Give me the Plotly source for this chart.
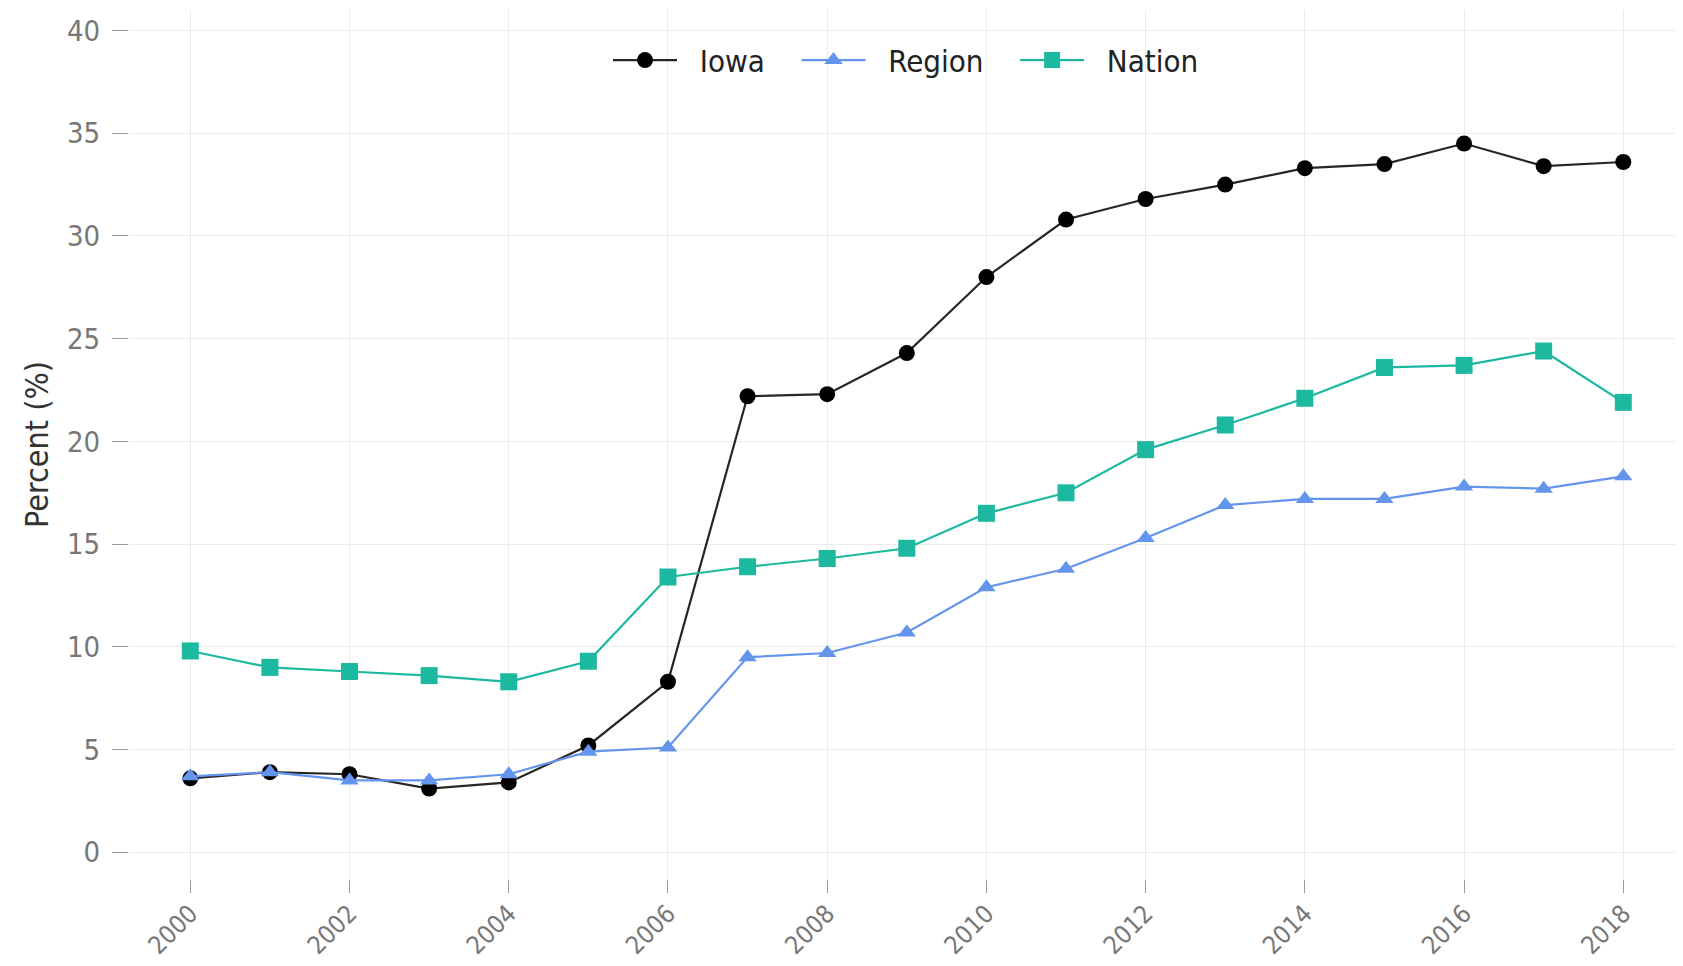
import plotly.graph_objects as go

years = list(range(2000, 2019))
iowa = [3.6, 3.9, 3.8, 3.1, 3.4, 5.2, 8.3, 22.2, 22.3, 24.3, 28.0, 30.8, 31.8, 32.5, 33.3, 33.5, 34.5, 33.4, 33.6]
region = [3.7, 3.9, 3.5, 3.5, 3.8, 4.9, 5.1, 9.5, 9.7, 10.7, 12.9, 13.8, 15.3, 16.9, 17.2, 17.2, 17.8, 17.7, 18.3]
nation = [9.8, 9.0, 8.8, 8.6, 8.3, 9.3, 13.4, 13.9, 14.3, 14.8, 16.5, 17.5, 19.6, 20.8, 22.1, 23.6, 23.7, 24.4, 21.9]
x_ticks = list(range(2000, 2019, 2))
y_ticks = [0, 5, 10, 15, 20, 25, 30, 35, 40]

FONT = "DejaVu Sans Condensed, Liberation Sans Narrow, Liberation Sans, Arial, sans-serif"
NB = "\u00a0\u00a0"
TR = "\u00a0\u00a0\u00a0"

fig = go.Figure()
fig.add_trace(go.Scatter(x=years, y=iowa, name=NB + "Iowa" + TR, mode="lines+markers",
                         line=dict(color="#262626", width=2.2),
                         marker=dict(symbol="circle", size=16, color="black")))
fig.add_trace(go.Scatter(x=years, y=region, name=NB + "Region" + TR, mode="lines+markers",
                         line=dict(color="#6495ED", width=2.2),
                         marker=dict(symbol="triangle-up", size=16, color="#6495ED")))
fig.add_trace(go.Scatter(x=years, y=nation, name=NB + "Nation", mode="lines+markers",
                         line=dict(color="#1DB8A0", width=2.2),
                         marker=dict(symbol="square", size=17, color="#1DB8A0")))

fig.update_layout(
    width=1683, height=966,
    margin=dict(l=121, r=8, t=2, b=95),
    paper_bgcolor="white", plot_bgcolor="white",
    font=dict(family=FONT, color="#555555", size=20),
    showlegend=True,
    legend=dict(orientation="h", x=0.5, xanchor="center", y=0.942, yanchor="middle",
                font=dict(size=31, color="#222222", family=FONT),
                bgcolor="rgba(0,0,0,0)", itemwidth=64, traceorder="normal"),
    xaxis=dict(range=[1999.23, 2018.75], tickvals=x_ticks, ticktext=[str(v) for v in x_ticks],
               tickangle=-45, showgrid=True, gridcolor="#EBEBEB", gridwidth=1,
               zeroline=False, showline=False, ticks="outside", ticklen=13, tickcolor="#9a9a9a",
               ticklabelstandoff=-4,
               tickfont=dict(size=25, color="#777777")),
    yaxis=dict(range=[-1.3, 41], tickvals=y_ticks, showgrid=True, gridcolor="#EBEBEB", gridwidth=1,
               zeroline=False, showline=False, ticks="outside", ticklen=16, tickcolor="#9a9a9a",
               ticklabelstandoff=6,
               tickfont=dict(size=29, color="#777777"),
               title=dict(text="Percent (%)", font=dict(size=32, color="#333333"), standoff=8)),
)

fig.write_html("out.html")
